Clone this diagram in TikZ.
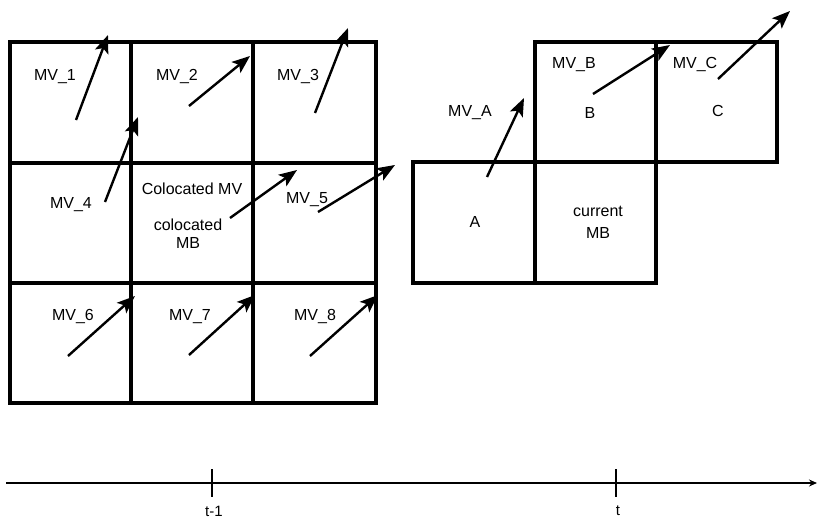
\documentclass[tikz,border=0pt]{standalone}
\usepackage{fontspec}
\setmainfont{Liberation Sans}
\usetikzlibrary{arrows.meta}

\begin{document}
\begin{tikzpicture}[x=1pt, y=-1pt, every node/.style={font=\fontsize{16}{18}\selectfont},
	mb/.style={line width=4pt},
	mv/.style={line width=2.4pt, -{Stealth[length=18pt, width=14pt, inset=4pt]}},
	axis/.style={line width=1.4pt}]
	\useasboundingbox (0,0) rectangle (819,519);
	% frame t-1: 3x3 neighbourhood
	\draw[mb] (10,42) rectangle (376,403);
	\foreach \x in {131,253} \draw[mb] (\x,42) -- (\x,403);
	\foreach \y in {163,283} \draw[mb] (10,\y) -- (376,\y);
	\node (mv1) at (55,77) {MV\_1};
	\node (mv2) at (177,77) {MV\_2};
	\node (mv3) at (298,77) {MV\_3};
	\node (mv4) at (71,205) {MV\_4};
	\node (colmv) at (192,189) {Colocated MV};
	\node[align=center] (colmb) at (188,234) {colocated\\MB};
	\node (mv5) at (307,200) {MV\_5};
	\node (mv6) at (73,317) {MV\_6};
	\node (mv7) at (190,317) {MV\_7};
	\node (mv8) at (315,317) {MV\_8};
	\draw[mv] (76,120) -- (108,35);
	\draw[mv] (189,106) -- (250,56);
	\draw[mv] (315,113) -- (348,28);
	\draw[mv] (105,202) -- (138,117);
	\draw[mv] (230,218) -- (297,170);
	\draw[mv] (318,212) -- (395,165);
	\draw[mv] (68,356) -- (135,296);
	\draw[mv] (189,355) -- (255,295);
	\draw[mv] (310,356) -- (378,295);
	% frame t: current MB and its neighbours
	\draw[mb] (535,42) rectangle (777,162);
	\draw[mb] (656,42) -- (656,162);
	\draw[mb] (413,162) rectangle (656,283);
	\draw[mb] (535,162) -- (535,283);
	\node (mva) at (470,113) {MV\_A};
	\node (mvb) at (574,65) {MV\_B};
	\node (mvc) at (695,65) {MV\_C};
	\node (b) at (590,113) {B};
	\node (c) at (718,111) {C};
	\node (a) at (475,222) {A};
	\node[align=center] (cur) at (598,222) {current\\[4pt]MB};
	\draw[mv] (487,177) -- (524,98);
	\draw[mv] (593,94) -- (670,45);
	\draw[mv] (718,79) -- (790,11);
	% time axis
	\coordinate (t0) at (6,483);
	\coordinate (t1) at (817,483);
	\draw[axis, -{Stealth[length=8pt, width=7pt]}] (t0) -- (t1);
	\foreach \p/\n/\l in {212/tm/t-1, 616/tc/t} {
		\draw[axis] (\p,469) -- (\p,497);
		\node[font=\fontsize{15}{17}\selectfont] (\n) at (\p+2,511) {\l};
	}
\end{tikzpicture}
\end{document}
